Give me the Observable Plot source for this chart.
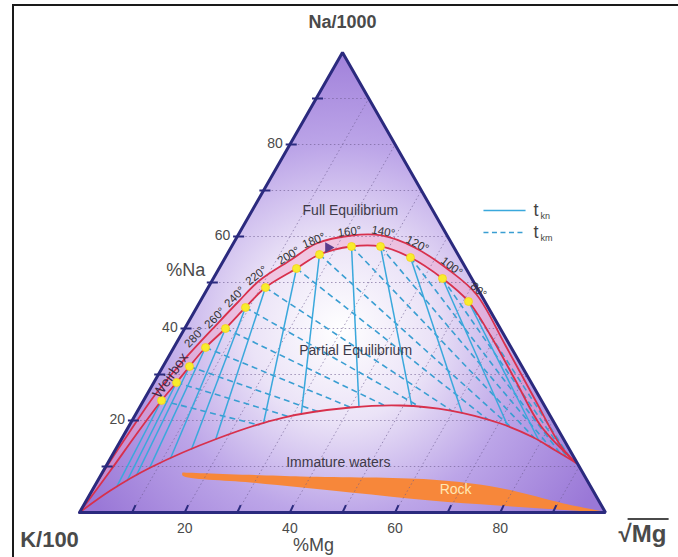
<!DOCTYPE html>
<html><head><meta charset="utf-8">
<script src="https://cdn.jsdelivr.net/npm/d3@7"></script>
<script src="https://cdn.jsdelivr.net/npm/@observablehq/plot@0.6"></script>
<style>
body{margin:0;background:#fff;font-family:Arial,"Liberation Sans",sans-serif;}
#wrap{position:relative;width:678px;height:557px;overflow:hidden;}
#frame{position:absolute;left:12px;top:4px;width:700px;height:600px;border-top:2px solid #1a1a1a;border-left:2px solid #1a1a1a;pointer-events:none;}
#wrap svg{position:absolute;left:0;top:0;}
</style></head><body><div id="wrap"><div id="frame"></div></div>
<script>
// ---- data (ternary percentages: Na = %Na, Mg = %Mg, K = 100 - Na - Mg) ----
const temps = [340, 320, 300, 280, 260, 240, 220, 200, 180, 160, 140, 120, 100, 80];
const tempLabels = ["", "", "", "280°", "260°", "240°", "220°", "200°", "180°", "160°", "140°", "120°", "100°", "80°"];
const dotNa = [24.35, 28.26, 31.74, 35.87, 40.0, 44.57, 48.91, 53.04, 56.09, 57.83, 57.83, 55.43, 50.87, 45.87];
const dotMg = [3.42, 4.31, 5.04, 6.02, 7.76, 9.27, 10.9, 14.73, 17.58, 22.8, 28.31, 35.21, 43.58, 51.02];

const innerLeadNa = [0, 9.13, 16.74];
const innerLeadMg = [0, 1.33, 2.28];
const innerTailNa = [38.48, 28.7, 18.91, 10.87];
const innerTailMg = [58.9, 68.54, 78.19, 88.87];

const outerNa = [0, 9.57, 17.83, 25.43, 32.83, 41.3, 45.87, 50.43, 55.0, 58.48, 60.22, 60.22, 57.61, 52.61, 47.39, 36.3, 24.35, 14.57, 10.87];
const outerMg = [0, 0.16, 0.79, 1.55, 3.17, 5.78, 7.3, 9.0, 12.8, 15.82, 21.6, 27.3, 34.88, 44.04, 51.78, 62.84, 74.52, 84.16, 88.87];

const immNa = [0, 4.78, 9.78, 16.09, 20.65, 22.83, 23.26, 22.17, 19.35, 16.3, 13.48, 10.87];
const immMg = [0, 3.5, 8.61, 18.2, 28.46, 40.11, 49.4, 59.45, 70.37, 78.16, 83.75, 88.87];

const rockNa = [8.7, 7.83, 7.17, 5.43, 1.96, 0, 0.43, 1.52, 2.61, 4.35, 6.52, 8.04];
const rockMg = [15.23, 38.1, 63.14, 76.75, 91.04, 100, 93.7, 78.71, 65.43, 49.35, 29.25, 15.56];

const markerNa = [57.6];
const markerMg = [18.5];

const gridValues = [10, 20, 30, 40, 50, 60, 70, 80, 90];
const tickLabels = [20, 40, 60, 80];

// ---- layout ----
const W = 678, H = 557;
const xRange = [79, 605], yRange = [512, 52];
const xs = d3.scaleLinear([0, 100], xRange), ys = d3.scaleLinear([0, 100], yRange);

const toXY = (na, mg) => ({x: mg + na / 2, y: na});
const pts = (naA, mgA) => naA.map((na, i) => toXY(na, mgA[i]));

const triangle = [toXY(0, 0), toXY(0, 100), toXY(100, 0), toXY(0, 0)];
const dots = pts(dotNa, dotMg).map((p, i) => ({...p, t: temps[i], label: tempLabels[i]}));
const inner = [...pts(innerLeadNa, innerLeadMg), ...dots.map(d => ({x: d.x, y: d.y})), ...pts(innerTailNa, innerTailMg)];
const outer = pts(outerNa, outerMg);
const band = [...outer, ...inner.slice().reverse()];
const imm = pts(immNa, immMg);
const rock = pts(rockNa, rockMg);
const marker = pts(markerNa, markerMg);

// intersect a ray p + t*d (t>0) with a polyline
function hit(p, d, poly) {
  let best = null;
  for (let i = 0; i < poly.length - 1; i++) {
    const a = poly[i], b = poly[i + 1];
    const ex = b.x - a.x, ey = b.y - a.y;
    const den = d.x * ey - d.y * ex;
    if (Math.abs(den) < 1e-9) continue;
    const wx = a.x - p.x, wy = a.y - p.y;
    const t = (wx * ey - wy * ex) / den;
    const s = (wx * d.y - wy * d.x) / den;
    if (t > 1e-6 && s >= 0 && s <= 1 && (!best || t < best.t)) best = {t, x: p.x + t * d.x, y: p.y + t * d.y};
  }
  return best;
}
const apex = toXY(100, 0), mgV = toXY(0, 100);
const solid = [], dashed = [];
for (const p of dots) {
  const h1 = hit(p, {x: p.x - apex.x, y: p.y - apex.y}, imm);
  if (h1) solid.push({x1: p.x, y1: p.y, x2: h1.x, y2: h1.y});
  const h2 = hit(p, {x: mgV.x - p.x, y: mgV.y - p.y}, imm);
  if (h2) dashed.push({x1: p.x, y1: p.y, x2: h2.x, y2: h2.y});
}

// temperature labels along the curve's outer normal
const labels = [];
dots.forEach((d, i) => {
  if (!d.label) return;
  const a = dots[Math.max(0, i - 1)], b = dots[Math.min(dots.length - 1, i + 1)];
  let tx = xs(b.x) - xs(a.x), ty = ys(b.y) - ys(a.y);
  const L = Math.hypot(tx, ty); tx /= L; ty /= L;
  const off = 15;
  const px = xs(d.x) + ty * off, py = ys(d.y) - tx * off;
  labels.push({x: xs.invert(px), y: ys.invert(py), text: d.label, rot: Math.atan2(ty, tx) * 180 / Math.PI});
});

// grid, ticks
const gridNa = gridValues.map(v => ({x1: v / 2, y1: v, x2: 100 - v / 2, y2: v}));
const gridMg = gridValues.map(v => ({x1: v, y1: 0, x2: v + (100 - v) / 2, y2: 100 - v}));
const ticksNa = gridValues.map(v => ({x1: v / 2 - 0.8, y1: v, x2: v / 2 + 1.3, y2: v}));
const ticksMg = gridValues.map(v => ({x1: v, y1: 0, x2: v + 0.65, y2: 1.6}));

const FF = "Arial, 'Liberation Sans', sans-serif";
const txt = {fill: "#4a4a4a", fontFamily: FF};
const reg = {fontSize: 14, fill: "#3e3a48", fontFamily: FF};

const plot = Plot.plot({
  width: W, height: H, margin: 0,
  x: {type: "linear", domain: [0, 100], range: xRange, axis: null},
  y: {type: "linear", domain: [0, 100], range: yRange, axis: null},
  style: {background: "transparent", overflow: "visible"},
  marks: [
    Plot.line(triangle, {x: "x", y: "y", fill: "url(#bgGrad)", stroke: "none"}),
    Plot.line(band, {x: "x", y: "y", fill: "#f59ac4", fillOpacity: 0.42, stroke: "none"}),
    Plot.line([...rock, rock[0]], {x: "x", y: "y", fill: "#f7873a", stroke: "none", curve: "catmull-rom"}),
    Plot.link(gridNa, {x1: "x1", y1: "y1", x2: "x2", y2: "y2", stroke: "#6a5a8e", strokeOpacity: 0.6, strokeWidth: 1, strokeDasharray: "1.5,2.5"}),
    Plot.link(gridMg, {x1: "x1", y1: "y1", x2: "x2", y2: "y2", stroke: "#6a5a8e", strokeOpacity: 0.6, strokeWidth: 1, strokeDasharray: "1.5,2.5"}),
    Plot.link(dashed, {x1: "x1", y1: "y1", x2: "x2", y2: "y2", stroke: "#3a9ed2", strokeWidth: 1.6, strokeDasharray: "6,4"}),
    Plot.link(solid, {x1: "x1", y1: "y1", x2: "x2", y2: "y2", stroke: "#3aa8dc", strokeWidth: 1.5}),
    Plot.line(outer, {x: "x", y: "y", stroke: "#d8304c", strokeWidth: 1.8, curve: "catmull-rom"}),
    Plot.line(inner, {x: "x", y: "y", stroke: "#d8304c", strokeWidth: 1.8, curve: "catmull-rom"}),
    Plot.line(imm, {x: "x", y: "y", stroke: "#d8304c", strokeWidth: 1.8, curve: "catmull-rom"}),
    Plot.line(triangle, {x: "x", y: "y", stroke: "#2b2a7e", strokeWidth: 3, strokeLinejoin: "miter"}),
    Plot.link(ticksNa, {x1: "x1", y1: "y1", x2: "x2", y2: "y2", stroke: "#2b2a7e", strokeWidth: 2}),
    Plot.link(ticksMg, {x1: "x1", y1: "y1", x2: "x2", y2: "y2", stroke: "#2b2a7e", strokeWidth: 2}),
    Plot.dot(dots, {x: "x", y: "y", r: 4, fill: "#f8ec2c", stroke: "#f3d21a", strokeWidth: 0.8}),
    Plot.dot(marker, {x: "x", y: "y", r: 4, symbol: "triangle", fill: "#5b3d8c", rotate: -30}),
    Plot.text(labels, {x: "x", y: "y", text: "text", rotate: "rot", fontSize: 11.5, fill: "#333", fontFamily: FF}),
    // tick labels
    Plot.text(tickLabels, {x: d => d / 2, y: d => d, text: d => String(d), textAnchor: "end", dx: -7, dy: -1, fontSize: 14, ...txt}),
    Plot.text(tickLabels, {x: d => d, y: 0, text: d => String(d), dy: 16, fontSize: 14, ...txt}),
    // vertex & axis titles
    Plot.text(["Na/1000"], {x: 50, y: 100, text: d => d, dy: -30, fontSize: 18, fontWeight: "bold", ...txt}),
    Plot.text(["K/100"], {x: 0, y: 0, text: d => d, dx: -30, dy: 27, fontSize: 22, fontWeight: "bold", ...txt}),
    Plot.text(["√Mg"], {x: 100, y: 0, text: d => d, dx: 37, dy: 22, fontSize: 24, fontWeight: "bold", ...txt}),
    Plot.link([{x1: 104.2, x2: 112, y: -1.4}], {x1: "x1", x2: "x2", y1: "y", y2: "y", stroke: "#4a4a4a", strokeWidth: 2}),
    Plot.text(["%Mg"], {x: 44.5, y: 0, text: d => d, dy: 33, fontSize: 18, ...txt}),
    Plot.text(["%Na"], {x: 20.2, y: 52.6, text: d => d, fontSize: 18, ...txt}),
    // region labels
    Plot.text(["Full Equilibrium"], {x: 51.5, y: 65.6, text: d => d, ...reg}),
    Plot.text(["Partial Equilibrium"], {x: 52.5, y: 35.2, text: d => d, ...reg}),
    Plot.text(["Immature waters"], {x: 49.2, y: 10.9, text: d => d, ...reg}),
    Plot.text(["Rock"], {x: 71.5, y: 5, text: d => d, fontSize: 14, fill: "#ffe7b4", fontFamily: FF}),
    Plot.text(["Weirbox"], {x: 17.3, y: 29.8, text: d => d, rotate: -55, fontSize: 14, fill: "#3b2a48", fontFamily: FF}),
    // legend
    Plot.link([{x1: 76.8, x2: 84.8, y: 65.65}], {x1: "x1", x2: "x2", y1: "y", y2: "y", stroke: "#3aa8dc", strokeWidth: 1.5}),
    Plot.link([{x1: 76.8, x2: 84.8, y: 60.87}], {x1: "x1", x2: "x2", y1: "y", y2: "y", stroke: "#3a9ed2", strokeWidth: 1.6, strokeDasharray: "5,3.5"}),
    Plot.text(["t"], {x: 86.3, y: 65.65, text: d => d, textAnchor: "start", fontSize: 18, fill: "#444", fontFamily: FF}),
    Plot.text(["kn"], {x: 86.3, y: 65.65, text: d => d, textAnchor: "start", dx: 7, dy: 6, fontSize: 9, fill: "#444", fontFamily: FF}),
    Plot.text(["t"], {x: 86.3, y: 60.87, text: d => d, textAnchor: "start", fontSize: 18, fill: "#444", fontFamily: FF}),
    Plot.text(["km"], {x: 86.3, y: 60.87, text: d => d, textAnchor: "start", dx: 7, dy: 6, fontSize: 9, fill: "#444", fontFamily: FF})
  ]
});

// gradient definition for the triangle background
const svg = d3.select(plot);
const defs = svg.insert("defs", ":first-child");
const g = defs.append("radialGradient").attr("id", "bgGrad").attr("gradientUnits", "userSpaceOnUse")
  .attr("cx", 340).attr("cy", 330).attr("r", 300);
[[0, "#ffffff"], [0.3, "#ebe3f7"], [0.62, "#bca5e8"], [1, "#9a78d7"]].forEach(([o, c]) =>
  g.append("stop").attr("offset", o).attr("stop-color", c));
document.getElementById("wrap").appendChild(plot);
</script>
</body></html>
